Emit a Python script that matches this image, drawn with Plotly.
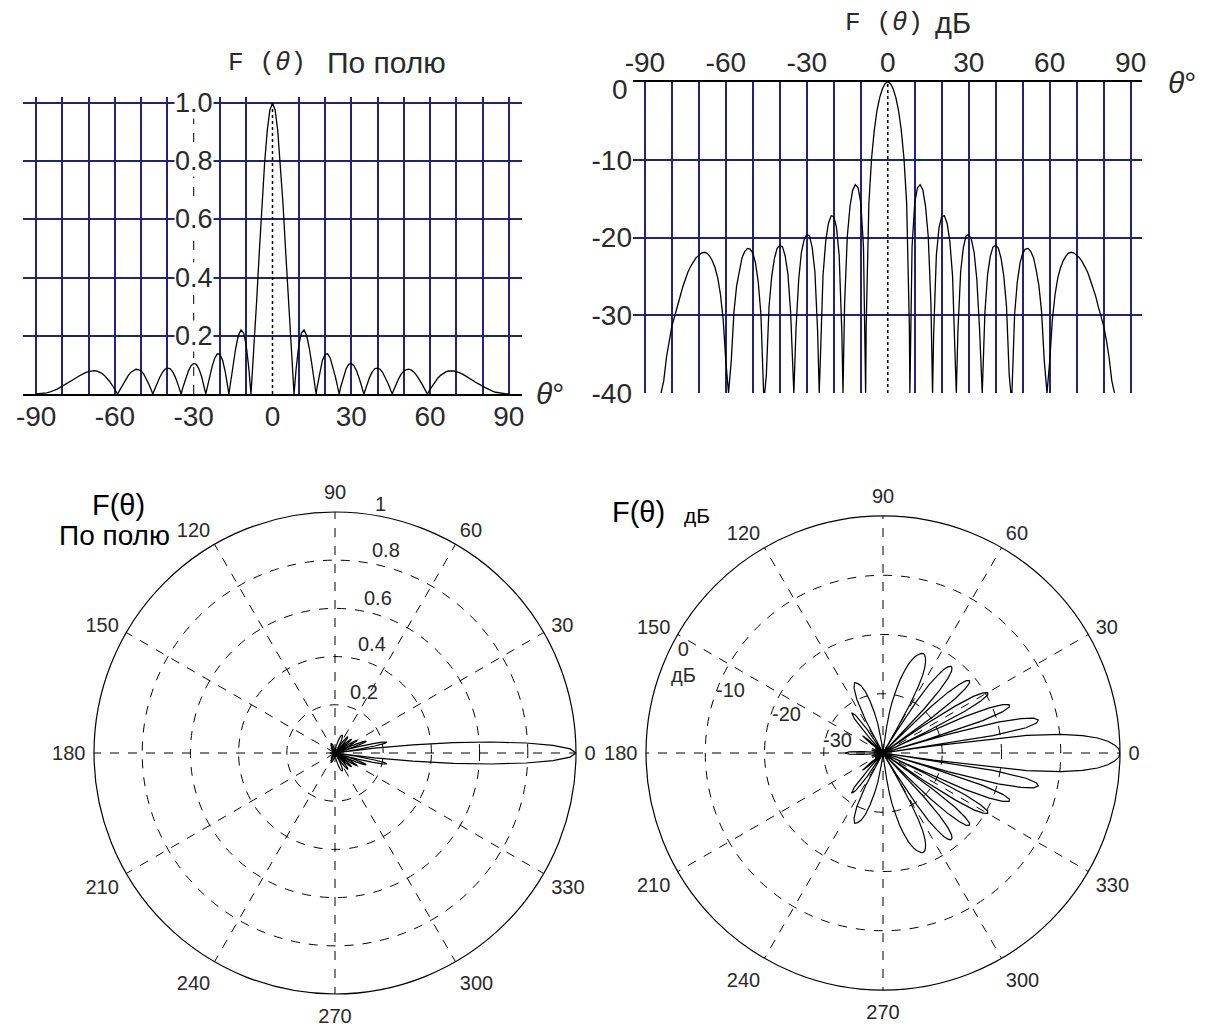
import plotly.graph_objects as go

W, H = 1208, 1026

# ---------------- data ----------------
THETA = [
    -90, -89, -88, -87, -86, -85, -84, -83, -82, -81, -80, -79, -78, -77, -76, -75,
    -74, -73, -72, -71, -70, -69, -68, -67, -66, -65, -64, -63, -62, -61, -60, -59,
    -58, -57, -56, -55, -54, -53, -52, -51, -50, -49, -48, -47, -46, -45.6, -45, -44,
    -43, -42, -41, -40, -39, -38, -37, -36, -35, -34.8, -34, -33, -32, -31, -30, -29,
    -28, -27, -26, -25.4, -25, -24, -23, -22, -21, -20, -19, -18, -17, -16.6, -16, -15,
    -14, -13, -12, -11, -10, -9, -8.2, -8, -7, -6, -5, -4, -3, -2, -1,
    0,
    1, 2, 3, 4, 5, 6, 7, 8, 8.2, 9, 10, 11, 12, 13, 14, 15, 16, 16.6, 17, 18, 19, 20,
    21, 22, 23, 24, 25, 25.4, 26, 27, 28, 29, 30, 31, 32, 33, 34, 34.8, 35, 36, 37, 38,
    39, 40, 41, 42, 43, 44, 45, 45.6, 46, 47, 48, 49, 50, 51, 52, 53, 54, 55, 56, 57,
    58, 59, 60, 61, 62, 63, 64, 65, 66, 67, 68, 69, 70, 71, 72, 73, 74, 75, 76, 77, 78,
    79, 80, 81, 82, 83, 84, 85, 86, 87, 88, 89, 90,
]

F_LIN = [
    0, .0004, .0012, .0025, .004, .006, .009, .012, .017, .022, .027, .031, .036, .042, .048, .054,
    .060, .065, .070, .074, .077, .079, .080, .079, .076, .071, .064, .055, .043, .030, .016, 0,
    .016, .033, .049, .062, .074, .081, .085, .084, .079, .068, .052, .032, .010, 0, .013, .036,
    .056, .073, .085, .089, .087, .076, .058, .033, .005, 0, .026, .054, .080, .097, .105, .102,
    .086, .060, .025, 0, .016, .057, .094, .123, .138, .136, .116, .077, .024, 0, .037, .101,
    .158, .201, .220, .210, .167, .087, 0, .027, .166, .325, .492, .653, .794, .905, .976,
    1.0,
    .976, .905, .794, .653, .492, .325, .166, .027, 0, .087, .167, .210, .220, .201, .158, .101, .037, 0, .024, .077, .116, .136,
    .138, .123, .094, .057, .016, 0, .025, .060, .086, .102, .105, .097, .080, .054, .026, 0, .005, .033, .058, .076,
    .087, .089, .085, .073, .056, .036, .013, 0, .010, .032, .052, .068, .079, .084, .085, .081, .074, .062, .049, .033,
    .016, 0, .016, .030, .043, .055, .064, .071, .076, .079, .080, .079, .077, .074, .070, .065, .060, .054, .048, .042, .036,
    .031, .027, .022, .017, .012, .009, .006, .004, .0025, .0012, .0004, 0,
]

F_DB = [
    None, None, None, None, None, None, -40, -38.4, -35.4, -33.2, -31.4, -30.2, -28.9, -27.5, -26.4, -25.4,
    -24.4, -23.7, -23.1, -22.6, -22.3, -22.0, -21.9, -22.0, -22.4, -23.0, -23.9, -25.2, -27.3, -30.5, -35.9, -40,
    -35.9, -29.6, -26.2, -24.2, -22.6, -21.8, -21.4, -21.5, -22.0, -23.3, -25.7, -29.9, -40, -40, -37.7, -28.9,
    -25.0, -22.7, -21.4, -21.0, -21.2, -22.4, -24.7, -29.6, -40, -40, -31.7, -25.4, -21.9, -20.3, -19.6, -19.8,
    -21.3, -24.4, -32.0, -40, -35.9, -24.9, -20.5, -18.2, -17.2, -17.3, -18.7, -22.3, -32.4, -40, -28.6, -19.9,
    -16.0, -13.9, -13.2, -13.6, -15.5, -21.2, -40, -31.4, -15.6, -9.8, -6.2, -3.7, -2.0, -0.9, -0.2,
    0,
    -0.2, -0.9, -2.0, -3.7, -6.2, -9.8, -15.6, -31.4, -40, -21.2, -15.5, -13.6, -13.2, -13.9, -16.0, -19.9, -28.6, -40, -32.4, -22.3, -18.7, -17.3,
    -17.2, -18.2, -20.5, -24.9, -35.9, -40, -32.0, -24.4, -21.3, -19.8, -19.6, -20.3, -21.9, -25.4, -31.7, -40, -40, -29.6, -24.7, -22.4,
    -21.2, -21.0, -21.4, -22.7, -25.0, -28.9, -37.7, -40, -40, -29.9, -25.7, -23.3, -22.0, -21.5, -21.4, -21.8, -22.6, -24.2, -26.2, -29.6,
    -35.9, -40, -35.9, -30.5, -27.3, -25.2, -23.9, -23.0, -22.4, -22.0, -21.9, -22.0, -22.3, -22.6, -23.1, -23.7, -24.4, -25.4, -26.4, -27.5, -28.9,
    -30.2, -31.4, -33.2, -35.4, -38.4, -40, None, None, None, None, None, None,
]

# rear half-plane of the polar diagrams (90..270 deg)
BACK_THETA = [
    92, 94, 96, 98, 100, 102, 104, 106, 108, 110, 112, 114, 116, 118, 120, 122, 124, 126, 128, 130,
    132, 134, 136, 138, 140, 142, 144, 146,
    150, 154, 158, 162, 166, 170,
    172, 174, 176, 178, 180, 182, 184, 186, 188,
    190, 194, 198, 202, 206, 210, 214,
    216, 218, 220, 222, 224, 226, 228, 230, 232, 234, 236, 238, 240, 242, 244, 246, 248, 250, 252,
    254, 256, 258, 260, 262, 264, 266, 268,
]
BACK_DB = [
    -40, -40, -40, -38, -35, -33, -31, -29.2, -28.1, -27.5, -27.2, -28, -29.9, -33.8, -40, -40, -35.2, -32.1, -31.4, -32.5,
    -36.7, -40, -40, -36.7, -35.5, -37.4, -40, -40,
    -38.5, -40, -38, -40, -38, -40,
    -40, -39, -36.5, -34.3, -33.6, -34.3, -36.5, -39, -40,
    -40, -38, -40, -38, -40, -38.5, -40,
    -40, -37.4, -35.5, -36.7, -40, -40, -36.7, -32.5, -31.4, -32.1, -35.2, -40, -40, -33.8, -29.9, -28, -27.2, -27.5, -28.1,
    -29.2, -31, -33, -35, -38, -40, -40, -40,
]
BACK_LIN = [
    0, 0, 0, .013, .018, .022, .028, .035, .039, .042, .044, .040, .032, .020, 0, 0, .017, .025, .027, .024,
    .015, 0, 0, .015, .017, .013, 0, 0,
    .012, 0, .013, 0, .013, 0,
    0, .011, .015, .019, .021, .019, .015, .011, 0,
    0, .013, 0, .013, 0, .012, 0,
    0, .013, .017, .015, 0, 0, .015, .024, .027, .025, .017, 0, 0, .020, .032, .040, .044, .042, .039,
    .035, .028, .022, .018, .013, 0, 0, 0,
]

X_TICKS = [-90, -60, -30, 0, 30, 60, 90]
X_TICK_TEXT = ['-90', '-60', '-30', '0', '30', '60', '90']
GRID_LIN_X = [-90, -80, -70, -60, -50, -40, -20, -10, 10, 20, 30, 40, 50, 60, 70, 80, 90]
GRID_DB_X = [-90, -80, -70, -60, -50, -40, -30, -20, -10, 10, 20, 30, 40, 50, 60, 70, 80, 90]
LIN_TICKS = [0.2, 0.4, 0.6, 0.8, 1.0]
LIN_TICK_TEXT = ['0.2', '0.4', '0.6', '0.8', '1.0']
DB_TICKS = [0, -10, -20, -30, -40]
DB_TICK_TEXT = ['', '-10', '-20', '-30', '-40']   # the "0" is set a little lower, see below
DB_GRID = [-10, -20, -30, -40]
POLAR_ANG = [0, 30, 60, 90, 120, 150, 180, 210, 240, 270, 300, 330]
POLAR_ANG_TEXT = ['0', '30', '60', '90', '120', '150', '180', '210', '240', '270', '300', '330']
POLAR_LIN_TICKS = [0.2, 0.4, 0.6, 0.8, 1.0]
POLAR_LIN_TEXT = ['0.2', '0.4', '0.6', '0.8', '1']
POLAR_DB_TICKS = [-30, -20, -10, 0]
POLAR_DB_TEXT = ['-30', '-20', '-10', '0<br>дБ']

# ---------------- styling ----------------
NAVY = '#23237e'
TXT = '#2a2a2a'
SANS = 'Liberation Sans, Arial, sans-serif'
MONO = 'Liberation Mono, Courier New, monospace'


def tx(x):
    return x / W


def ty(y):
    return 1 - y / H


def polar_domain(cx, cy, r):
    return dict(x=[(cx - r) / W, (cx + r) / W], y=[1 - (cy + r) / H, 1 - (cy - r) / H])


fig = go.Figure()

fig.add_trace(go.Scatter(x=THETA, y=F_LIN, xaxis='x', yaxis='y', mode='lines',
                         line=dict(color='black', width=1.3), showlegend=False))
fig.add_trace(go.Scatter(x=THETA, y=F_DB, xaxis='x2', yaxis='y2', mode='lines',
                         line=dict(color='black', width=1.3), showlegend=False))
fig.add_trace(go.Scatterpolar(theta=THETA + BACK_THETA, r=F_LIN + BACK_LIN, subplot='polar',
                              mode='lines', line=dict(color='black', width=1.2),
                              connectgaps=True, showlegend=False))
fig.add_trace(go.Scatterpolar(theta=THETA + BACK_THETA, r=F_DB + BACK_DB, subplot='polar2',
                              mode='lines', line=dict(color='black', width=1.2),
                              connectgaps=True, showlegend=False))

tickfont = dict(family=SANS, size=28, color=TXT)

polar_common_ang = dict(rotation=0, direction='counterclockwise', tickmode='array',
                        tickvals=POLAR_ANG, ticktext=POLAR_ANG_TEXT,
                        showline=True, linecolor='black', linewidth=1.2,
                        showgrid=True, gridcolor='black', gridwidth=1, griddash='dash',
                        ticks='outside', ticklen=4, tickcolor='rgba(0,0,0,0)',
                        tickfont=dict(family=SANS, size=20, color=TXT))

fig.update_layout(
    width=W, height=H, margin=dict(l=0, r=0, t=0, b=0, autoexpand=False),
    paper_bgcolor='white', plot_bgcolor='white', showlegend=False,
    xaxis=dict(domain=[tx(23), tx(522)], range=[-95, 95], anchor='y', automargin=False,
               tickmode='array', tickvals=X_TICKS, ticktext=X_TICK_TEXT,
               showgrid=False, zeroline=False, showline=True, linecolor='black', linewidth=1.5,
               ticks='', tickfont=tickfont, ticklabelstandoff=-3,
               minor=dict(tickvals=GRID_LIN_X, showgrid=True, gridcolor=NAVY, gridwidth=2, ticks='')),
    yaxis=dict(domain=[ty(394), ty(97)], range=[0, 1.0206], anchor='x', automargin=False,
               tickmode='array', tickvals=LIN_TICKS, showticklabels=False,
               showgrid=True, gridcolor=NAVY, gridwidth=2, zeroline=False, showline=False, ticks=''),
    xaxis2=dict(domain=[tx(633), tx(1142)], range=[-94.4, 94.2], anchor='y2', side='top',
                automargin=False,
                tickmode='array', tickvals=X_TICKS, ticktext=X_TICK_TEXT,
                showgrid=False, zeroline=False, showline=True, linecolor='black', linewidth=1.5,
                ticks='', tickfont=tickfont, ticklabelstandoff=-3,
                minor=dict(tickvals=GRID_DB_X, showgrid=True, gridcolor=NAVY, gridwidth=2, ticks='')),
    yaxis2=dict(domain=[ty(393), ty(82)], range=[-40, 0], anchor='x2', automargin=False,
                tickmode='array', tickvals=DB_TICKS, ticktext=DB_TICK_TEXT,
                showgrid=False, zeroline=False, showline=False, ticks='', tickfont=tickfont,
                minor=dict(tickvals=DB_GRID, showgrid=True, gridcolor=NAVY, gridwidth=2, ticks='')),
    polar=dict(domain=polar_domain(335, 753, 241), bgcolor='white',
               angularaxis=polar_common_ang,
               radialaxis=dict(range=[0, 1], tickmode='array', tickvals=POLAR_LIN_TICKS,
                               showticklabels=False, angle=84, showline=False, ticks='',
                               showgrid=True, gridcolor='black', gridwidth=1, griddash='dash')),
    polar2=dict(domain=polar_domain(883, 753, 237), bgcolor='white',
                angularaxis=polar_common_ang,
                radialaxis=dict(range=[-40, 0], tickmode='array', tickvals=POLAR_DB_TICKS,
                                showticklabels=False, angle=150, showline=False, ticks='',
                                showgrid=True, gridcolor='black', gridwidth=1, griddash='dash')),
)

# axis decorations of the Cartesian charts
fig.add_shape(type='line', xref='x', yref='y', x0=-30, x1=-30, y0=0, y1=1.0,
              line=dict(color='black', width=1, dash='dash'))
fig.add_shape(type='line', xref='x', yref='y', x0=0, x1=0, y0=0, y1=1.0,
              line=dict(color='black', width=1.5, dash='dot'))
fig.add_shape(type='line', xref='x2', yref='y2', x0=0, x1=0, y0=-40, y1=0,
              line=dict(color='black', width=1.5, dash='dot'))

for v, t in zip(LIN_TICKS, LIN_TICK_TEXT):
    fig.add_annotation(x=-30, y=v, xref='x', yref='y', text=t, showarrow=False,
                       font=dict(family=SANS, size=27, color=TXT), bgcolor='white', borderpad=0)


def label(x, y, text, size, family=SANS, color=TXT, xanchor='center'):
    fig.add_annotation(x=tx(x), y=ty(y), xref='paper', yref='paper', text=text,
                       showarrow=False, font=dict(family=family, size=size, color=color),
                       xanchor=xanchor, yanchor='middle')


label(267, 63, 'F (<i>θ</i>)', 26, MONO)
label(386, 63, 'По полю', 30)
label(884, 23, 'F (<i>θ</i>)', 26, MONO)
label(953, 23, 'дБ', 29)
label(550, 393, '<i>θ</i>°', 30)
label(1182, 82, '<i>θ</i>°', 30)
label(630, 89, '0', 28, xanchor='right')

label(118, 505, 'F(θ)', 29, color='black')
label(114, 535, 'По полю', 28, color='black')
label(638, 512, 'F(θ)', 29, color='black')
label(697, 515, 'дБ', 21, color='black')

# radial scale labels of the polar diagrams (placed as in the picture)
LIN_LABEL_POS = [(364, 692), (372, 644), (378, 598), (386, 550), (381, 504)]
for (lx, ly), t in zip(LIN_LABEL_POS, POLAR_LIN_TEXT):
    label(lx, ly, t, 20)
DB_LABEL_POS = [(837, 740), (786, 714), (730, 690), (683, 662)]
for (lx, ly), t in zip(DB_LABEL_POS, POLAR_DB_TEXT):
    label(lx, ly, t, 20)

fig.write_html('out.html', config={'displayModeBar': False},
               post_script="document.body.style.margin='0';document.body.style.overflow='hidden';")
